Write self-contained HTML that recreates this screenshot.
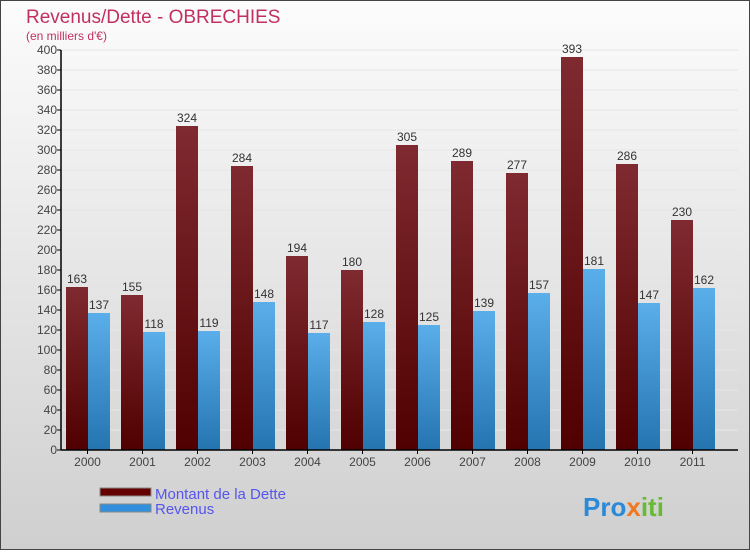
<!DOCTYPE html>
<html><head><meta charset="utf-8"><style>
body{margin:0;width:750px;height:550px;overflow:hidden;font-family:"Liberation Sans",sans-serif}
</style></head><body>
<svg width="750" height="550" xmlns="http://www.w3.org/2000/svg">
<defs>
<linearGradient id="bg" x1="0" y1="0" x2="0" y2="1"><stop offset="0" stop-color="#fcfcfc"/><stop offset="1" stop-color="#cfcfcf"/></linearGradient>
<linearGradient id="gd" x1="0" y1="0" x2="0" y2="1"><stop offset="0" stop-color="#7f2a30"/><stop offset="1" stop-color="#500000"/></linearGradient>
<linearGradient id="gr" x1="0" y1="0" x2="0" y2="1"><stop offset="0" stop-color="#5aaeea"/><stop offset="1" stop-color="#2474b0"/></linearGradient>
</defs>
<rect x="0.5" y="0.5" width="749" height="549" fill="url(#bg)" stroke="#444"/>
<text x="26" y="23" font-size="19" fill="#c03060">Revenus/Dette - OBRECHIES</text>
<text x="26" y="40" font-size="12" fill="#c03060">(en milliers d'€)</text>
<g id="grid"></g><g id="bars"></g><g id="axes"></g>
<g>
<rect x="100" y="488" width="51" height="8" fill="#650000" stroke="#888"/>
<text x="155" y="499" font-size="15" fill="#5555ee">Montant de la Dette</text>
<rect x="100" y="504" width="51" height="8" fill="#3090dd" stroke="#888"/>
<text x="155" y="514" font-size="15" fill="#5555ee">Revenus</text>
</g>
<text x="583" y="516" font-size="26" font-weight="bold" fill="#2a8ad8">Pro<tspan fill="#f07820">x</tspan><tspan fill="#66bb33">iti</tspan></text>
</svg>
<script>
const years=["2000","2001","2002","2003","2004","2005","2006","2007","2008","2009","2010","2011"];
const dette=[163,155,324,284,194,180,305,289,277,393,286,230];
const revenus=[137,118,119,148,117,128,125,139,157,181,147,162];
const yTicks=[0,20,40,60,80,100,120,140,160,180,200,220,240,260,280,300,320,340,360,380,400];
const NS="http://www.w3.org/2000/svg";
const y0=450,yTop=50,yMax=400,xL=61,xR=738;
const yS=v=>y0-(v/yMax)*(y0-yTop);
const step=(xR-xL)/years.length*0.99;
const xC=i=>xL+26.5+i*55;
function mk(t,a,p){const e=document.createElementNS(NS,t);for(const k in a)e.setAttribute(k,a[k]);document.getElementById(p).appendChild(e);return e;}
yTicks.forEach(v=>{
 const g=mk('line',{x1:xL,x2:xR,y1:yS(v),y2:yS(v),stroke:'#e6e6e6','stroke-width':1},'grid');
 
 
 const t=mk('line',{x1:xL-4,x2:xL,y1:yS(v),y2:yS(v),stroke:'#000'},'axes');
 
 
 const l=mk('text',{x:xL-4,y:yS(v)+4,'font-size':12,'text-anchor':'end',fill:'#444'},'axes');
 
 
 l.textContent=v;
});
years.forEach((yr,i)=>{
 const c=xC(i);
 [[dette[i],c-21.5,'url(#gd)','bar-dette'],[revenus[i],c+0.5,'url(#gr)','bar-revenus']].forEach(([v,x,f,n])=>{
  const r=mk('rect',{x:x,y:yS(v),width:22,height:y0-yS(v),fill:f},'bars');
  
  
  const t=mk('text',{x:x+11,y:yS(v)-4,'font-size':12,'text-anchor':'middle',fill:'#333'},'bars');
  
  
  t.textContent=v;
 });
 const tk=mk('line',{x1:c,x2:c,y1:y0,y2:y0+4,stroke:'#000'},'axes');
 
 
 const l=mk('text',{x:c,y:y0+16,'font-size':12,'text-anchor':'middle',fill:'#444'},'axes');
 
 
 l.textContent=yr;
});
const ya=mk('line',{x1:xL,x2:xL,y1:yTop,y2:y0,stroke:'#000','stroke-width':1.5},'axes');


const xa=mk('line',{x1:xL,x2:xR,y1:y0,y2:y0,stroke:'#000','stroke-width':1.5},'axes');


</script>
</body></html>
